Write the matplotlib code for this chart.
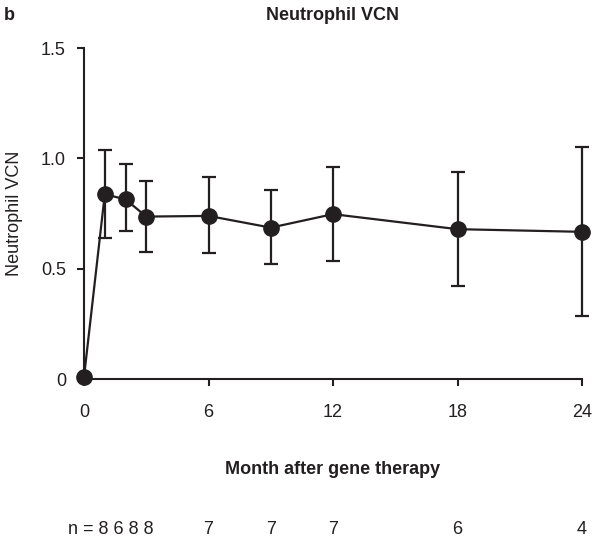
import matplotlib
matplotlib.use('Agg')
import matplotlib.pyplot as plt
import matplotlib.transforms as mtransforms

plt.rcParams['font.family'] = ['Liberation Sans', 'DejaVu Sans']

# neutrophil vector copy number over time
months = [0, 1, 2, 3, 6, 9, 12, 18, 24]
vcn_mean = [0.012, 0.838, 0.815, 0.737, 0.74, 0.687, 0.748, 0.68, 0.668]
vcn_upper = [0.012, 1.04, 0.974, 0.90, 0.914, 0.859, 0.962, 0.938, 1.052]
vcn_lower = [0.012, 0.64, 0.671, 0.578, 0.573, 0.521, 0.536, 0.423, 0.285]
n_patients = [8, 6, 8, 8, 7, 7, 7, 6, 4]

ink = '#231f20'
fs = 13

err_low = [m - lo for m, lo in zip(vcn_mean, vcn_lower)]
err_high = [hi - m for m, hi in zip(vcn_mean, vcn_upper)]

fig = plt.figure(figsize=(5.96, 5.42), dpi=100)
ax = fig.add_axes([0.141, 0.300, 0.8355, 0.6114])

ax.errorbar(months, vcn_mean, yerr=[err_low, err_high], color=ink,
            marker='o', markersize=11, linewidth=1.6, elinewidth=1.6,
            capsize=5, capthick=1.6, clip_on=False, zorder=3)

ax.set_xlim(0, 24)
ax.set_ylim(0, 1.5)
ax.set_xticks([0, 6, 12, 18, 24])
ax.set_yticks([0, 0.5, 1.0, 1.5])
ax.set_yticklabels(['0', '0.5', '1.0', '1.5'])
ax.spines['top'].set_visible(False)
ax.spines['right'].set_visible(False)
for s in ['left', 'bottom']:
    ax.spines[s].set_linewidth(1.5)
    ax.spines[s].set_color(ink)
ax.tick_params(direction='out', length=5, width=1.5, color=ink,
               labelsize=fs, labelcolor=ink)
ax.tick_params(axis='x', pad=13)
ax.tick_params(axis='y', pad=8)

fig.text(15 / 596, 0.5 * (0.300 + 0.9114), 'Neutrophil VCN', fontsize=fs,
         color=ink, rotation=90, ha='center', va='center')
fig.text(0.5585, 1 - 15 / 542, 'Neutrophil VCN', fontsize=fs,
         fontweight='bold', color=ink, ha='center', va='center')
fig.text(0.006, 1 - 15 / 542, 'b', fontsize=fs, fontweight='bold', color=ink,
         va='center')

fig.text(0.5585, 1 - 469 / 542, 'Month after gene therapy', fontsize=fs,
         fontweight='bold', color=ink, ha='center', va='center')

# number of patients at each visit
trans = mtransforms.blended_transform_factory(ax.transData, fig.transFigure)
n_y = 1 - 530 / 542
ax.text(3.35, n_y, 'n = ' + ' '.join(str(v) for v in n_patients[:4]),
        transform=trans, fontsize=fs, color=ink, ha='right', va='center',
        clip_on=False)
for m, v in zip(months[4:], n_patients[4:]):
    ax.text(m, n_y, str(v), transform=trans, fontsize=fs, color=ink,
            ha='center', va='center', clip_on=False)

fig.savefig('out.png', dpi=100)
